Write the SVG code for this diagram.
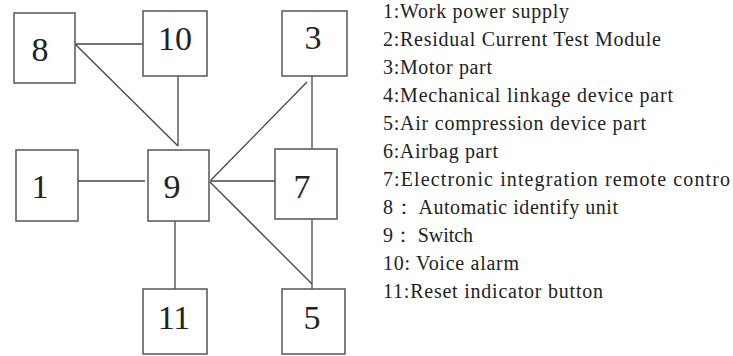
<svg xmlns="http://www.w3.org/2000/svg" width="733" height="356" viewBox="0 0 733 356">
<style>
.box{fill:#fff;stroke:#555;stroke-width:1.5}
.num{font-family:"Liberation Serif",serif;font-size:34px;fill:#222;text-anchor:middle}
.leg{font-family:"Liberation Serif",serif;font-size:20px;fill:#222}
.ln{stroke:#444;stroke-width:1.3;fill:none}
</style>
<rect width="733" height="356" fill="#fff"/>
<g id="connectors">
<line class="ln" x1="75" y1="44" x2="143" y2="44"/>
<line class="ln" x1="75" y1="44" x2="178" y2="146"/>
<line class="ln" x1="178" y1="76" x2="178" y2="146"/>
<line class="ln" x1="312" y1="76" x2="312" y2="149"/>
<line class="ln" x1="307" y1="82" x2="211" y2="180"/>
<line class="ln" x1="78" y1="181" x2="145" y2="181"/>
<line class="ln" x1="210" y1="181" x2="275" y2="181"/>
<line class="ln" x1="210" y1="182" x2="312" y2="284"/>
<line class="ln" x1="312" y1="219" x2="312" y2="289"/>
<line class="ln" x1="175" y1="221" x2="175" y2="289"/>
</g>
<g id="node8"><rect class="box" x="14" y="13" width="61" height="70"/><text class="num" x="40" y="61">8</text></g>
<g id="node10"><rect class="box" x="143" y="11" width="64" height="65"/><text class="num" x="175" y="50">10</text></g>
<g id="node3"><rect class="box" x="282" y="11" width="65" height="65"/><text class="num" x="313" y="49">3</text></g>
<g id="node1"><rect class="box" x="16" y="150" width="62" height="71"/><text class="num" x="40" y="198">1</text></g>
<g id="node9"><rect class="box" x="148" y="150" width="61" height="71"/><text class="num" x="172" y="198">9</text></g>
<g id="node7"><rect class="box" x="275" y="149" width="62" height="70"/><text class="num" x="302" y="198">7</text></g>
<g id="node11"><rect class="box" x="143" y="289" width="64" height="65"/><text class="num" x="174" y="329">11</text></g>
<g id="node5"><rect class="box" x="282" y="289" width="63" height="65"/><text class="num" x="312" y="329">5</text></g>
<g id="legend">
<text class="leg" x="383" y="18" textLength="186" lengthAdjust="spacing">1:Work power supply</text>
<text class="leg" x="383" y="46" textLength="278" lengthAdjust="spacing">2:Residual Current Test Module</text>
<text class="leg" x="383" y="74" textLength="109" lengthAdjust="spacing">3:Motor part</text>
<text class="leg" x="383" y="102" textLength="290" lengthAdjust="spacing">4:Mechanical linkage device part</text>
<text class="leg" x="383" y="130" textLength="263" lengthAdjust="spacing">5:Air compression device part</text>
<text class="leg" x="383" y="158" textLength="115" lengthAdjust="spacing">6:Airbag part</text>
<text class="leg" x="383" y="186" textLength="347" lengthAdjust="spacing">7:Electronic integration remote contro</text>
<text class="leg" x="383" y="214" textLength="235" lengthAdjust="spacing">8： Automatic identify unit</text>
<text class="leg" x="383" y="242" textLength="90" lengthAdjust="spacing">9： Switch</text>
<text class="leg" x="383" y="270" textLength="136" lengthAdjust="spacing">10: Voice alarm</text>
<text class="leg" x="383" y="298" textLength="220" lengthAdjust="spacing">11:Reset indicator button</text>
</g>
</svg>
